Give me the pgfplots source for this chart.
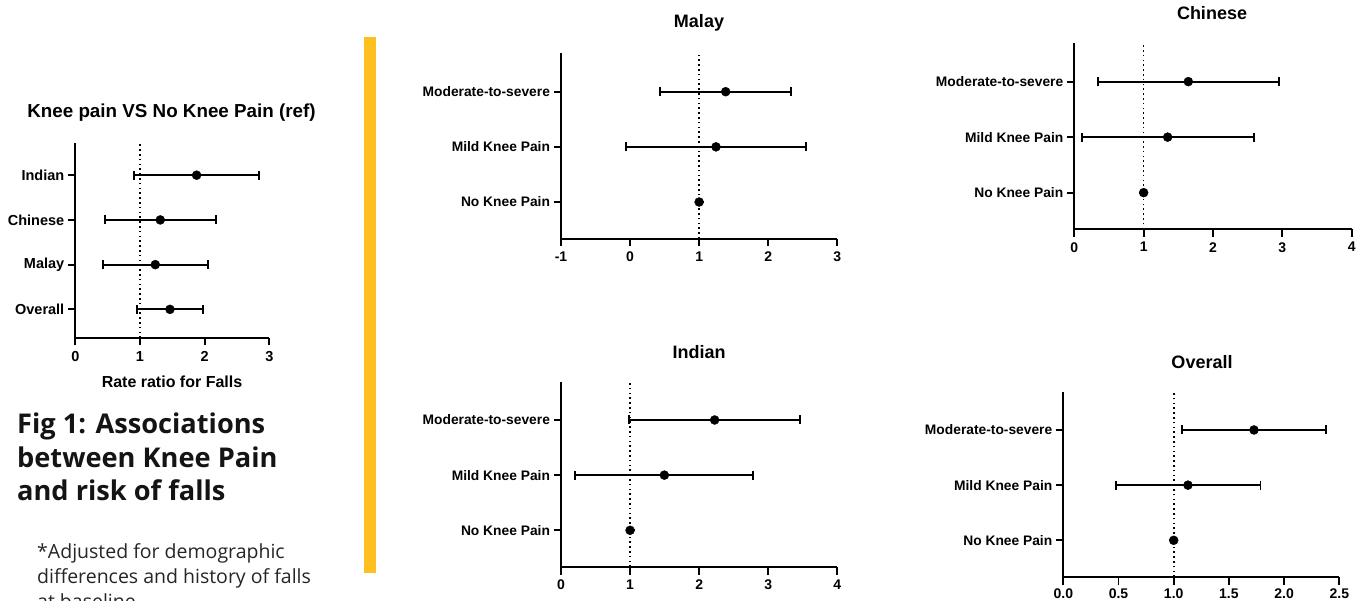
\documentclass[border=0pt]{standalone}
\usepackage{pgfplots}
\pgfplotsset{compat=1.18}
\usepackage{pgfplotstable}
\usepackage{fontspec}
\setmainfont{Liberation Sans}
\newfontfamily\segoe{Open Sans}
\definecolor{gold}{RGB}{254,192,32}

\pgfplotstableread{
y est lo hi
4 1.876 0.907 2.845
3 1.314 0.464 2.175
2 1.237 0.433 2.057
1 1.464 0.948 1.979
}\overallT
\pgfplotstableread{
y est lo hi
3 1.384 0.433 2.325
2 1.244 -0.054 2.547
1 1 1 1
}\malayT
\pgfplotstableread{
y est lo hi
3 1.644 0.341 2.952
2 1.346 0.106 2.587
1 1 1 1
}\chineseT
\pgfplotstableread{
y est lo hi
3 2.224 0.989 3.464
2 1.496 0.203 2.784
1 1 1 1
}\indianT
\pgfplotstableread{
y est lo hi
3 1.727 1.072 2.379
2 1.129 0.477 1.787
1 1 1 1
}\allT

\pgfplotsset{forest/.style={
  scale only axis, anchor=south west, clip=false,
  axis x line*=bottom, axis y line*=left,
  axis line style={line width=1.8pt,-},
  tick align=outside, major tick length=7.5pt,
  tick style={line width=1.8pt, black},
  ytick={1,2,3},
  yticklabels={No Knee Pain, Mild Knee Pain, Moderate-to-severe},
  yticklabel style={font=\bfseries\fontsize{13.8}{14}\selectfont},
  xticklabel style={font=\bfseries\fontsize{14}{14}\selectfont, yshift=-2pt},
}}
\pgfplotsset{fp/.style={only marks, black, mark=*, mark size=4.5pt,
  error bars/.cd, x dir=both, x explicit,
  error bar style={line width=1.8pt, black},
  error mark options={rotate=90, line width=1.8pt, mark size=4.5pt, black}}}
\pgfplotsset{refl/.style={black, line width=1.6pt, dash pattern=on 1.6pt off 3.2pt}}

\begin{document}
\begin{tikzpicture}
\fill[white] (0pt,0pt) rectangle (1362pt,600pt);
\fill[gold] (364pt,27pt) rectangle (376pt,563pt);

% Left summary chart
\begin{axis}[forest, at={(75.3pt,262pt)}, width=194pt, height=195pt,
  xmin=0, xmax=3, ymin=0.36, ymax=4.72, xtick={0,1,2,3}, xticklabels={0,1,2,3},
  ytick={1,2,3,4}, yticklabels={Overall,Malay,Chinese,Indian},
  yticklabel style={font=\bfseries\fontsize{14.5}{15}\selectfont},
  xticklabel style={font=\bfseries\fontsize{14.5}{15}\selectfont}]
\addplot[refl] coordinates {(1,0.36) (1,4.72)};
\addplot[fp] table[x=est, y=y, x error plus expr=\thisrow{hi}-\thisrow{est}, x error minus expr=\thisrow{est}-\thisrow{lo}] {\overallT};
\end{axis}
\node[font=\bfseries\fontsize{18.8}{20}\selectfont] at (171.5pt,487pt) {Knee pain VS No Knee Pain (ref)};
\node[font=\bfseries\fontsize{16}{17}\selectfont] at (172pt,218pt) {Rate ratio for Falls};

% Malay
\begin{axis}[forest, at={(561pt,361.3pt)}, width=276.3pt, height=185.4pt,
  xmin=-1, xmax=3, ymin=0.335, ymax=3.696, xtick={-1,0,1,2,3}, xticklabels={-1,0,1,2,3}]
\addplot[refl] coordinates {(1,0.335) (1,3.696)};
\addplot[fp] table[x=est, y=y, x error plus expr=\thisrow{hi}-\thisrow{est}, x error minus expr=\thisrow{est}-\thisrow{lo}] {\malayT};
\end{axis}
\node[font=\bfseries\fontsize{18}{19}\selectfont] at (699pt,577pt) {Malay};

% Chinese
\begin{axis}[forest, at={(1074.3pt,370.7pt)}, width=277.4pt, height=186pt,
  xmin=0, xmax=4, ymin=0.34, ymax=3.69, xtick={0,1,2,3,4}, xticklabels={0,1,2,3,4}]
\addplot[refl] coordinates {(1,0.34) (1,3.69)};
\addplot[fp] table[x=est, y=y, x error plus expr=\thisrow{hi}-\thisrow{est}, x error minus expr=\thisrow{est}-\thisrow{lo}] {\chineseT};
\end{axis}
\node[font=\bfseries\fontsize{18}{19}\selectfont] at (1212pt,587pt) {Chinese};

% Indian
\begin{axis}[forest, at={(561pt,33pt)}, width=276.3pt, height=184.7pt,
  xmin=0, xmax=4, ymin=0.335, ymax=3.683, xtick={0,1,2,3,4}, xticklabels={0,1,2,3,4}]
\addplot[refl] coordinates {(1,0.335) (1,3.683)};
\addplot[fp] table[x=est, y=y, x error plus expr=\thisrow{hi}-\thisrow{est}, x error minus expr=\thisrow{est}-\thisrow{lo}] {\indianT};
\end{axis}
\node[font=\bfseries\fontsize{18}{19}\selectfont] at (699pt,248pt) {Indian};

% Overall
\begin{axis}[forest, at={(1063.3pt,23pt)}, width=276pt, height=184.7pt,
  xmin=0, xmax=2.5, ymin=0.335, ymax=3.683, xtick={0,0.5,1,1.5,2,2.5},
  xticklabels={0.0,0.5,1.0,1.5,2.0,2.5},
  xticklabel style={font=\bfseries\fontsize{14}{14}\selectfont, yshift=1pt}]
\addplot[refl] coordinates {(1,0.335) (1,3.683)};
\addplot[fp] table[x=est, y=y, x error plus expr=\thisrow{hi}-\thisrow{est}, x error minus expr=\thisrow{est}-\thisrow{lo}] {\allT};
\end{axis}
\node[font=\bfseries\fontsize{18}{19}\selectfont] at (1202pt,238pt) {Overall};

% Left text
\begin{scope}[every node/.style={anchor=base west, inner sep=0pt}]
\node[text=black!92, font=\segoe\bfseries\fontsize{27.2}{28}\selectfont] at (17pt,167pt) {Fig 1: Associations};
\node[text=black!92, font=\segoe\bfseries\fontsize{27.2}{28}\selectfont] at (17pt,133pt) {between Knee Pain};
\node[text=black!92, font=\segoe\bfseries\fontsize{27.2}{28}\selectfont] at (17pt,100pt) {and risk of falls};
\node[text=black!85, font=\segoe\fontsize{19.5}{20}\selectfont] at (37pt,42pt) {*Adjusted for demographic};
\node[text=black!85, font=\segoe\fontsize{19.5}{20}\selectfont] at (37pt,17pt) {differences and history of falls};
\node[text=black!85, font=\segoe\fontsize{19.5}{20}\selectfont] at (37pt,-8pt) {at baseline};
\end{scope}

\pgfresetboundingbox
\useasboundingbox (0pt,0pt) rectangle (1362pt,600pt);
\end{tikzpicture}
\end{document}
